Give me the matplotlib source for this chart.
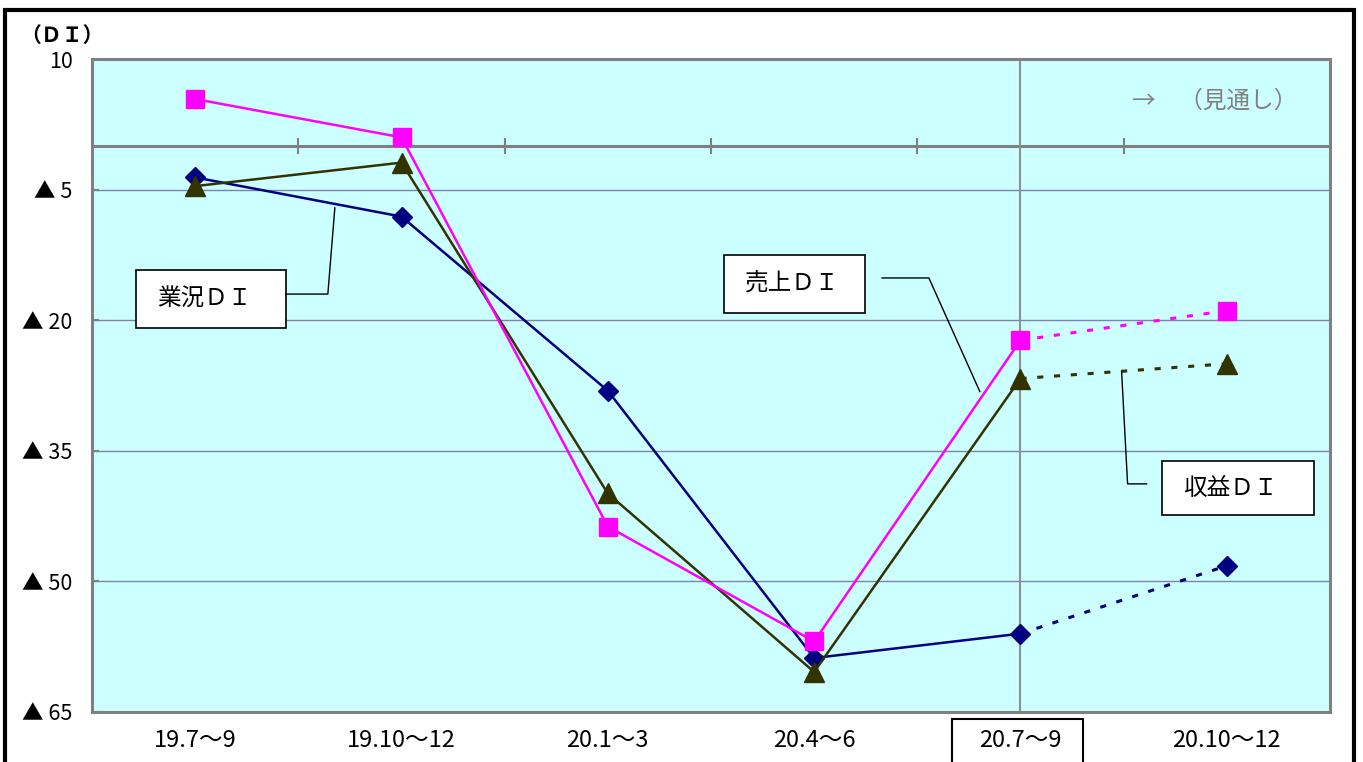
import matplotlib.pyplot as plt
from matplotlib.patches import Rectangle

plt.rcParams['font.family'] = ['Noto Sans CJK JP', 'DejaVu Sans']

periods = ['19.7～9', '19.10～12', '20.1～3', '20.4～6', '20.7～9', '20.10～12']
gyokyo_di = [-3.6, -8.1, -28.1, -58.8, -56.0, -48.2]   # 業況ＤＩ
uriage_di = [5.4, 1.0, -43.7, -56.9, -22.3, -18.9]     # 売上ＤＩ
shueki_di = [-4.6, -1.9, -39.9, -60.4, -26.7, -25.0]   # 収益ＤＩ
y_ticks = [10, -5, -20, -35, -50, -65]
y_tick_labels = ['10', '▲ 5', '▲ 20', '▲ 35', '▲ 50', '▲ 65']
forecast_from = '20.7～9'

W, H = 1363, 762
fig = plt.figure(figsize=(W / 100, H / 100), dpi=100)
ax = fig.add_axes([92 / W, 1 - 712 / H, (1330 - 92) / W, (712 - 59) / H])
ax.set_facecolor('#CCFFFF')

x = list(range(len(periods)))
split = periods.index(forecast_from)

# solid for actual results, dotted for the forecast period
series = [
    (gyokyo_di, '#000080', 'D', 10.5, 3),
    (shueki_di, '#333300', '^', 14, 4),
    (uriage_di, '#FF00FF', 's', 13, 5),
]
for vals, color, marker, ms, z in series:
    ax.plot(x[:split + 1], vals[:split + 1], color=color, lw=1.8, zorder=z)
    ax.plot(x[split:], vals[split:], color=color, lw=2.2, dashes=(2, 3.5), zorder=z)
    ax.plot(x, vals, ls='none', marker=marker, ms=ms, color=color,
            mec=color, mew=1, zorder=z + 0.5)

ax.set_xlim(-0.5, len(periods) - 0.5)
ax.set_ylim(-65, 10)
ax.set_xticks(x)
ax.set_xticklabels(periods)
ax.set_yticks(y_ticks)
ax.set_yticklabels(y_tick_labels)
ax.yaxis.grid(True, color='#8080b0', lw=1)
ax.set_axisbelow(True)
ax.tick_params(axis='x', length=0, pad=12, labelsize=17)
ax.tick_params(axis='y', direction='in', length=5, width=1.5, color='#808080',
               pad=14, labelsize=15.5)
for sp in ax.spines.values():
    sp.set_color('#808080')
    sp.set_linewidth(2.2)

# zero line with category boundary ticks
ymin, ymax = ax.get_ylim()
zero_ax = ax.secondary_xaxis((0 - ymin) / (ymax - ymin))
zero_ax.set_xticks([i + 0.5 for i in x[:-1]])
zero_ax.set_xticklabels([])
zero_ax.tick_params(direction='inout', length=12, width=1.5, color='#808080')
for sp in zero_ax.spines.values():
    sp.set_color('#808080')
    sp.set_linewidth(2.2)

ax.axvline(split, color='#909090', lw=1.5, zorder=1.5)
ax.text(4.54, 5.2, '→　（見通し）', color='#808080', fontsize=17, va='center')

# box around the first forecast period label
ax.add_patch(Rectangle((split - 0.33, -0.2), 0.634, 0.2 - 0.0107,
                       transform=ax.get_xaxis_transform(), fill=False,
                       edgecolor='black', lw=1.5, clip_on=False))


def callout(text, box, leader):
    x0, y0, x1, y1 = box
    ax.add_patch(Rectangle((x0, y1), x1 - x0, y0 - y1, facecolor='white',
                           edgecolor='black', lw=1.2, zorder=6))
    ax.text(x0 + 0.1, (y0 + y1) / 2, text, ha='left', va='center',
            fontsize=17, zorder=7)
    lx, ly = zip(*leader)
    ax.plot(lx, ly, color='black', lw=1, zorder=6)


callout('業況ＤＩ', (-0.285, -14.2, 0.44, -20.9),
        [(0.44, -17.0), (0.643, -17.0), (0.677, -7.1)])
callout('売上ＤＩ', (2.564, -12.5, 3.246, -19.2),
        [(3.329, -15.15), (3.556, -15.15), (3.803, -28.2)])
callout('収益ＤＩ', (4.688, -36.2, 5.423, -42.4),
        [(4.611, -38.8), (4.519, -38.8), (4.490, -25.9)])

fig.text(20 / W, 1 - 35 / H, '（ＤＩ）', fontsize=15, weight='bold', va='center')

# outer frame
fig.add_artist(Rectangle((5 / W, -0.05), (1354 - 5) / W, 1.05 - 9.5 / H,
                         transform=fig.transFigure, fill=False,
                         edgecolor='black', lw=3))

fig.savefig('out.png', dpi=100)
